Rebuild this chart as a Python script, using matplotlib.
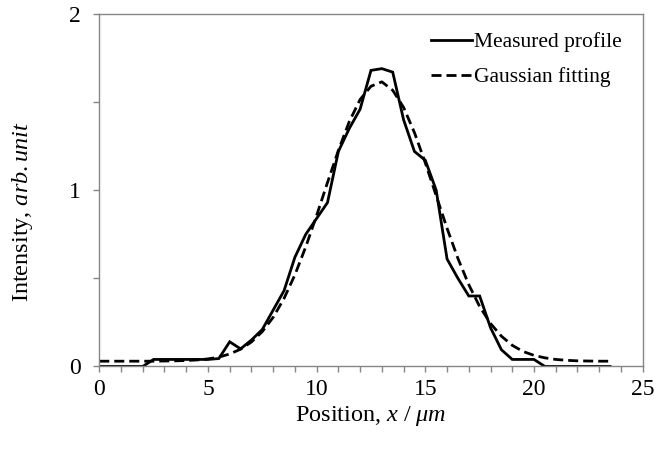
import matplotlib
matplotlib.use("Agg")
import matplotlib.pyplot as plt
from matplotlib.ticker import MultipleLocator

plt.rcParams['font.family'] = ['Liberation Serif', 'DejaVu Serif']
plt.rcParams['mathtext.fontset'] = 'custom'
plt.rcParams['mathtext.rm'] = 'Liberation Serif'
plt.rcParams['mathtext.it'] = 'Liberation Serif:italic'

# Position (um)
position = [0, 0.5, 1, 1.5, 2, 2.5, 3, 3.5, 4, 4.5, 5, 5.5, 6, 6.5, 7, 7.5, 8,
            8.5, 9, 9.5, 10, 10.5, 11, 11.5, 12, 12.5, 13, 13.5, 14, 14.5, 15,
            15.5, 16, 16.5, 17, 17.5, 18, 18.5, 19, 19.5, 20, 20.5, 21, 21.5,
            22, 22.5, 23, 23.5]

measured = [0, 0, 0, 0, 0, 0.04, 0.04, 0.04, 0.04, 0.04, 0.04, 0.045, 0.14,
            0.10, 0.15, 0.21, 0.32, 0.43, 0.62, 0.75, 0.84, 0.93, 1.22, 1.35,
            1.46, 1.68, 1.69, 1.67, 1.40, 1.22, 1.17, 1.00, 0.61, 0.50, 0.40,
            0.40, 0.22, 0.095, 0.04, 0.04, 0.04, 0.0, 0, 0, 0, 0, 0, 0]

gaussian = [0.03, 0.03, 0.03, 0.03, 0.03, 0.03, 0.031, 0.032, 0.034, 0.037,
            0.043, 0.053, 0.071, 0.098, 0.139, 0.198, 0.279, 0.386, 0.52,
            0.679, 0.857, 1.044, 1.226, 1.389, 1.515, 1.59, 1.615, 1.567,
            1.47, 1.327, 1.155, 0.969, 0.784, 0.613, 0.464, 0.34, 0.244,
            0.172, 0.12, 0.085, 0.063, 0.049, 0.040, 0.035, 0.032, 0.031,
            0.03, 0.03]

labels = ['Measured profile', 'Gaussian fitting']

fig = plt.figure(figsize=(6.54, 4.50), dpi=100)
ax = fig.add_axes([0.1518, 0.1856, 0.9827 - 0.1518, 0.9689 - 0.1856])

ax.plot(position, measured, color='black', lw=2.0, label=labels[0],
        solid_joinstyle='miter')
ax.plot(position, gaussian, color='black', lw=2.0, dashes=(3.6, 1.8),
        label=labels[1])

ax.set_xlim(0, 25)
ax.set_ylim(0, 2)
ax.xaxis.set_major_locator(MultipleLocator(5))
ax.xaxis.set_minor_locator(MultipleLocator(1))
ax.yaxis.set_major_locator(MultipleLocator(1))
ax.yaxis.set_minor_locator(MultipleLocator(0.5))

spine_col = '#868686'
for s in ax.spines.values():
    s.set_color(spine_col)
    s.set_linewidth(1.0)

ax.tick_params(which='both', direction='out', length=4, width=1.0,
               color=spine_col, labelsize=17, labelcolor='black')
ax.tick_params(axis='x', pad=5)
ax.tick_params(axis='y', pad=9)

ax.set_xlabel(r'Position, $\mathit{x\ /\ μm}$', fontsize=17.5, labelpad=3)
ax.set_ylabel(r'Intensity, $\mathit{arb.unit}$', fontsize=17.5)
ax.yaxis.set_label_coords(-0.118, 0.44)

ax.legend(loc='upper right', bbox_to_anchor=(0.985, 0.985), frameon=False,
          fontsize=15.5, handlelength=1.9, handletextpad=0.1,
          labelspacing=0.7, borderaxespad=0.2)

fig.savefig('out.png', dpi=100)
